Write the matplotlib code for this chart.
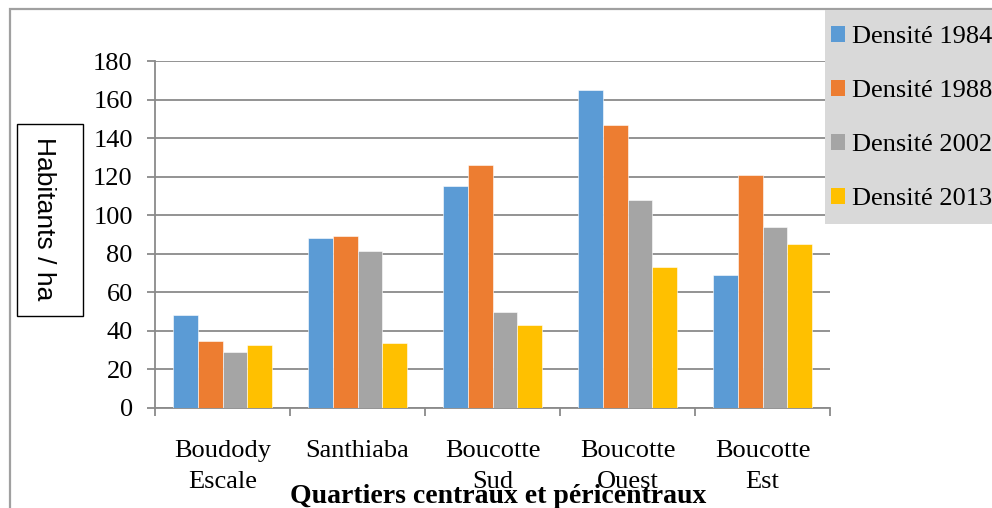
import matplotlib
matplotlib.use("Agg")
import matplotlib.pyplot as plt
from matplotlib.patches import Rectangle, Patch
import numpy as np

quartiers = ["Boudody\nEscale", "Santhiaba", "Boucotte\nSud", "Boucotte\nOuest", "Boucotte\nEst"]
series = ["Densité 1984", "Densité 1988", "Densité 2002", "Densité 2013"]
d1984 = [48, 88, 115, 165, 69]
d1988 = [34.5, 89, 126, 147, 121]
d2002 = [29, 81.5, 50, 108, 94]
d2013 = [32.5, 33.5, 43, 73, 85]
colors = ["#5b9bd5", "#ed7d31", "#a5a5a5", "#ffc000"]

W, H = 992, 508
serif = "Liberation Serif"
fs = 19

fig = plt.figure(figsize=(W / 100, H / 100), dpi=100)
ax = fig.add_axes([155 / W, 1 - 408 / H, 675 / W, 347 / H])

x = np.arange(len(quartiers))
bw = 0.182
for i, vals in enumerate([d1984, d1988, d2002, d2013]):
    ax.bar(x + (i - 1.5) * bw, vals, bw, color=colors[i], edgecolor="white",
           linewidth=0.4, zorder=3)

ax.set_xlim(-0.5, len(quartiers) - 0.5)
ax.set_ylim(0, 180)
ax.set_yticks(range(0, 181, 20))
ax.yaxis.grid(True, color="#8a8a8a", linewidth=1.3, zorder=0)
ax.set_axisbelow(True)

ax.set_xticks(x)
ax.set_xticklabels(quartiers, fontfamily=serif, fontsize=fs)
for lab in ax.get_xticklabels():
    lab.set_linespacing(1.55)
ax.set_xticks(np.arange(-0.5, len(quartiers)), minor=True)
ax.tick_params(axis="x", which="major", length=0, pad=23)
ax.tick_params(axis="x", which="minor", length=6, width=1.3, color="#8a8a8a", direction="out")
ax.tick_params(axis="y", length=6, width=1.3, color="#8a8a8a", direction="out", pad=10)
for lab in ax.get_yticklabels():
    lab.set_fontfamily(serif)
    lab.set_fontsize(fs)

for s in ["top", "right"]:
    ax.spines[s].set_visible(False)
for s in ["left", "bottom"]:
    ax.spines[s].set_color("#8a8a8a")
    ax.spines[s].set_linewidth(1.3)

# x axis title
fig.text(498 / W, 1 - 503 / H, "Quartiers centraux et péricentraux", ha="center",
         va="baseline", fontfamily=serif, fontsize=20, fontweight="bold")

# y axis title in its box
fig.add_artist(Rectangle((17 / W, 1 - 316 / H), 66 / W, 192 / H, transform=fig.transFigure,
                         fill=False, edgecolor="black", linewidth=1.0))
fig.text(44 / W, 1 - 219 / H, "Habitants / ha", rotation=-90, ha="center", va="center",
         fontfamily="Liberation Sans", fontsize=19)

# outer chart frame (cut at right/bottom)
fig.add_artist(Rectangle((10 / W, -0.5), 2, 1.5 - 9 / H, transform=fig.transFigure,
                         fill=False, edgecolor="#a0a0a0", linewidth=1.6))

# legend background, runs off the right edge like the original
fig.add_artist(Rectangle((825 / W, 1 - 224 / H), 0.5, 214 / H, transform=fig.transFigure,
                         facecolor="#d9d9d9", edgecolor="none", zorder=4))
handles = [Patch(facecolor=c, edgecolor="none") for c in colors]
leg = fig.legend(handles, series, loc="upper left", bbox_to_anchor=(823 / W, 1 - 18 / H),
                 prop={"family": serif, "size": fs}, frameon=False,
                 handlelength=0.55, handleheight=0.55, handletextpad=0.25,
                 labelspacing=1.2, borderpad=0.3, borderaxespad=0)

fig.savefig("out.png", dpi=100)
